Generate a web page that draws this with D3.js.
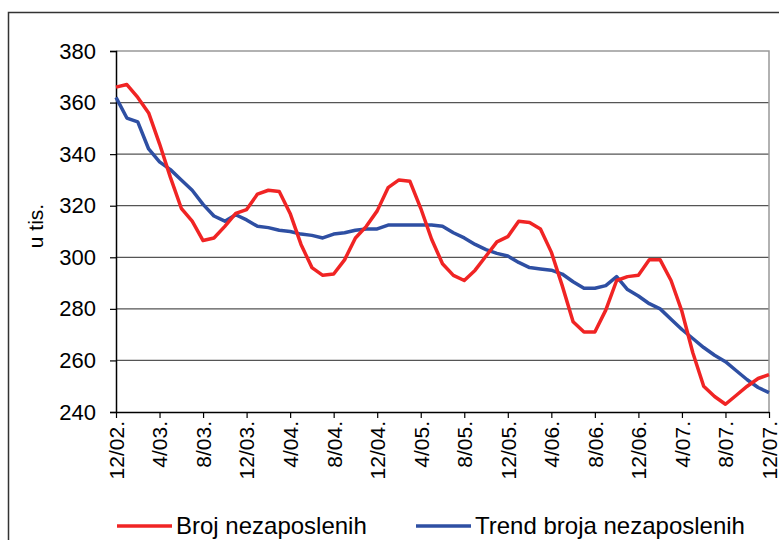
<!DOCTYPE html>
<html>
<head>
<meta charset="utf-8">
<script src="https://cdn.jsdelivr.net/npm/d3@7"></script>
<style>
  body { margin: 0; background: #fff; }
  svg { display: block; font-family: "Liberation Sans", Arial, sans-serif; }
</style>
</head>
<body>
<script>
// monthly values, 12/02 .. 12/07 (thousands)
const broj = [
  366, 367, 362, 356, 344, 331, 319, 314, 306.5, 307.5, 312, 317, 318.5,
  324.5, 326, 325.5, 317, 305, 296, 293, 293.5, 299, 307.5, 312, 318,
  327, 330, 329.5, 319, 307, 297.5, 293, 291, 295, 300.5, 306, 308,
  314, 313.5, 311, 302, 289, 275, 271, 271, 279.5, 291, 292.5, 293,
  299, 299, 291, 279, 263, 250, 246, 243, 246.5, 250, 253, 254.5
];
const trend = [
  362, 354, 352.5, 342, 337, 334, 330, 326, 320.5, 316, 314, 316.5, 314.5,
  312, 311.5, 310.5, 310, 309, 308.5, 307.5, 309, 309.5, 310.5, 311, 311,
  312.5, 312.5, 312.5, 312.5, 312.5, 312, 309.5, 307.5, 305, 303, 301.5, 300.5,
  298, 296, 295.5, 295, 293.5, 290.5, 288, 288, 289, 292.5, 287.5, 285,
  282, 280, 276, 272, 268.5, 265, 262, 259.5, 256, 252.5, 249.5, 247.5
];
const tickLabels = ['12/02.', '4/03.', '8/03.', '12/03.', '4/04.', '8/04.', '12/04.', '4/05.',
  '8/05.', '12/05.', '4/06.', '8/06.', '12/06.', '4/07.', '8/07.', '12/07.'];
const yTicks = [240, 260, 280, 300, 320, 340, 360, 380];
const seriesNames = ['Broj nezaposlenih', 'Trend broja nezaposlenih'];

const margin = { top: 51, left: 116 };
const width = 653;
const height = 361;

const svg = d3.select('body').append('svg')
  .attr('width', 779)
  .attr('height', 540);

// outer chart border
svg.append('rect')
  .attr('x', 8.5).attr('y', 12.5)
  .attr('width', 800).attr('height', 600)
  .attr('fill', 'none')
  .attr('stroke', '#333')
  .attr('stroke-width', 1.5);

const g = svg.append('g')
  .attr('transform', `translate(${margin.left}, ${margin.top})`);

const xScale = d3.scaleLinear()
  .domain([0, broj.length - 1])
  .range([0, width]);

const yScale = d3.scaleLinear()
  .domain([240, 380])
  .range([height, 0]);

// gridlines
g.selectAll('.grid').data(yTicks.filter(d => d > 240 && d < 380))
  .enter().append('line')
  .attr('x1', 0).attr('x2', width)
  .attr('y1', d => yScale(d)).attr('y2', d => yScale(d))
  .attr('stroke', '#555')
  .attr('stroke-width', 1.3);

// plot area border (top + right)
g.append('path')
  .attr('d', `M0,${yScale(380)}H${width}V${height}`)
  .attr('fill', 'none')
  .attr('stroke', '#999')
  .attr('stroke-width', 1.5);

const yAxis = d3.axisLeft(yScale)
  .tickValues(yTicks)
  .tickSize(6)
  .tickPadding(14);

g.append('g')
  .attr('class', 'y axis')
  .call(yAxis)
  .call(s => s.select('.domain').attr('stroke', '#000').attr('stroke-width', 1.5))
  .call(s => s.selectAll('.tick line').attr('stroke', '#000').attr('stroke-width', 1.2))
  .call(s => s.selectAll('text')
    .style('font-size', '22px')
    .style('font-family', '"Liberation Sans", Arial, sans-serif')
    .attr('fill', '#000'));

const xAxis = d3.axisBottom(xScale)
  .tickValues(d3.range(0, broj.length, 4))
  .tickFormat((d, i) => tickLabels[i])
  .tickSize(6)
  .tickSizeOuter(0);

g.append('g')
  .attr('class', 'x axis')
  .attr('transform', `translate(0, ${height})`)
  .call(xAxis)
  .call(s => s.select('.domain').attr('stroke', '#000').attr('stroke-width', 1.5))
  .call(s => s.selectAll('.tick line').attr('stroke', '#000').attr('stroke-width', 1.2))
  .call(s => s.selectAll('text')
    .attr('transform', 'rotate(-90)')
    .attr('x', -9)
    .attr('y', 0)
    .attr('dy', '0.35em')
    .style('text-anchor', 'end')
    .style('font-size', '21px')
    .style('font-family', '"Liberation Sans", Arial, sans-serif')
    .attr('fill', '#000'));

svg.append('text')
  .attr('transform', 'rotate(-90)')
  .attr('x', -226)
  .attr('y', 43)
  .style('text-anchor', 'middle')
  .style('font-size', '21px')
  .text('u tis.');

const line = d3.line()
  .x((d, i) => xScale(i))
  .y(d => yScale(d));

g.append('path')
  .datum(trend)
  .attr('d', line)
  .attr('fill', 'none')
  .attr('stroke', '#2e4fa3')
  .attr('stroke-width', 3.5)
  .attr('stroke-linejoin', 'round');

g.append('path')
  .datum(broj)
  .attr('d', line)
  .attr('fill', 'none')
  .attr('stroke', '#f02424')
  .attr('stroke-width', 3.5)
  .attr('stroke-linejoin', 'round');

// legend
const legend = [
  { name: seriesNames[0], color: '#f02424', x: 117 },
  { name: seriesNames[1], color: '#2e4fa3', x: 416 }
];
const lg = svg.selectAll('.legend').data(legend).enter().append('g')
  .attr('transform', d => `translate(${d.x}, 526)`);
lg.append('line')
  .attr('x1', 0).attr('x2', 55)
  .attr('stroke', d => d.color)
  .attr('stroke-width', 3.5);
lg.append('text')
  .attr('x', 59)
  .attr('dy', '0.35em')
  .style('font-size', '24px')
  .text(d => d.name);
</script>
</body>
</html>
